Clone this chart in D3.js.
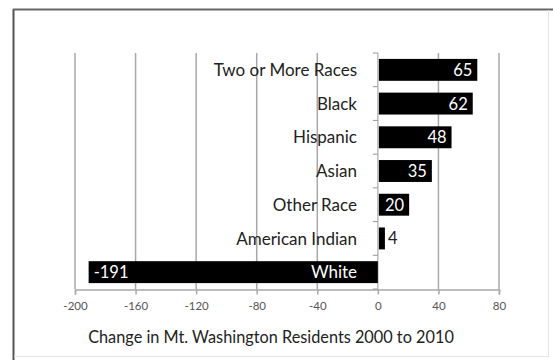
<!DOCTYPE html>
<html><head><meta charset="utf-8">
<script src="https://cdn.jsdelivr.net/npm/d3@7"></script>
<style>body{margin:0;background:#fff}svg{display:block}</style>
</head><body>
<svg id="chart" width="553" height="360"></svg>
<script>
const categories = ["Two or More Races","Black","Hispanic","Asian","Other Race","American Indian","White"];
const values = [65, 62, 48, 35, 20, 4, -191];
const xTicks = [-200,-160,-120,-80,-40,0,40,80];
const title = "Change in Mt. Washington Residents 2000 to 2010";

const svg = d3.select("#chart");
const font = "Lato, 'Open Sans', sans-serif";

// frame
svg.append("line").attr("x1",13.5).attr("x2",13.5).attr("y1",9).attr("y2",360).attr("stroke","#555").attr("stroke-width",2);
svg.append("line").attr("x1",13).attr("x2",553).attr("y1",9.5).attr("y2",9.5).attr("stroke","#666").attr("stroke-width",2);
svg.append("line").attr("x1",548.5).attr("x2",548.5).attr("y1",10).attr("y2",357).attr("stroke","#e4e4e4").attr("stroke-width",1);
svg.append("line").attr("x1",14).attr("x2",548).attr("y1",356.5).attr("y2",356.5).attr("stroke","#e4e4e4").attr("stroke-width",1);

const x = d3.scaleLinear().domain([-200,80]).range([75,499]);
const y = d3.scaleBand().domain(categories).range([53,289]).paddingInner(0.35).paddingOuter(0.175);

// gridlines
svg.append("g").selectAll("line").data(xTicks).join("line")
  .attr("x1",d=>x(d)).attr("x2",d=>x(d)).attr("y1",53).attr("y2",289)
  .attr("stroke",d=>d===0?"#bbb":"#a8a8a8").attr("stroke-width",1.5);

// x axis
const xa = svg.append("g").attr("transform","translate(0,289.5)")
  .call(d3.axisBottom(x).tickValues(xTicks).tickSize(5).tickPadding(7).tickFormat(d=>String(d)));
xa.select(".domain").attr("stroke","#a8a8a8").attr("stroke-width",1.5);
xa.selectAll(".tick line").attr("stroke","#a8a8a8").attr("stroke-width",1.5);
xa.selectAll("text").attr("fill","#555").attr("font-family",font).attr("font-size",11.5);

// y axis ticks at zero (category boundaries)
const step = y.step();
const bounds = d3.range(categories.length+1).map(i=>y(categories[0]) - y.paddingInner()*step/2 + i*step);
svg.append("g").selectAll("line").data(bounds).join("line")
  .attr("x1",x(0)-5).attr("x2",x(0)).attr("y1",d=>d).attr("y2",d=>d)
  .attr("stroke","#999").attr("stroke-width",1);

// bars
svg.append("g").selectAll("rect").data(values).join("rect")
  .attr("x",d=>x(Math.min(0,d))+ (d>0?1:0))
  .attr("width",d=>Math.abs(x(d)-x(0)))
  .attr("y",(d,i)=>y(categories[i]))
  .attr("height",y.bandwidth())
  .attr("fill","#000");

// category labels
svg.append("g").selectAll("text").data(categories).join("text")
  .attr("x",357).attr("y",d=>y(d)+y.bandwidth()/2).attr("dy","0.36em")
  .attr("text-anchor","end").attr("font-family",font).attr("font-size",17)
  .attr("fill",(d,i)=>values[i]<0?"#fff":"#222").text(d=>d);

// value labels
const small = d => d>0 && x(d)-x(0) < 20;
svg.append("g").selectAll("text").data(values).join("text")
  .attr("x",d=> d<0 ? x(d)+5 : (small(d) ? x(d)+4 : x(d)-4))
  .attr("y",(d,i)=>y(categories[i])+y.bandwidth()/2).attr("dy","0.36em")
  .attr("text-anchor",d=> d<0 || small(d) ? "start" : "end")
  .attr("font-family",font).attr("font-size",16.5)
  .attr("fill",d=> small(d) ? "#222" : "#fff")
  .text(d=>String(d));

// title
svg.append("text").attr("x",271).attr("y",337).attr("dy","0.36em").attr("text-anchor","middle")
  .attr("font-family",font).attr("font-size",16.3).attr("fill","#222").text(title);
</script>
</body></html>
